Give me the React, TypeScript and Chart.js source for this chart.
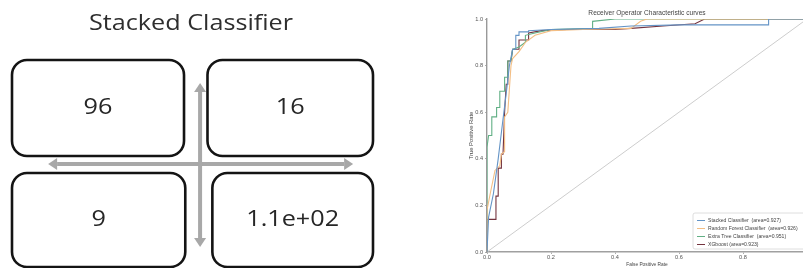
import React, { useEffect, useRef } from 'react';
import { Chart, registerables } from 'chart.js';

Chart.register(...registerables);

// ---------- Data: confusion matrix (left panel) ----------
const matrixTitle = 'Stacked Classifier';
const matrixValues = [96, 16, 9, 110]; // row-major: [TN, FP, FN, TP]

// ---------- Data: ROC curves (right panel) ----------
const rocTitle = 'Receiver Operator Characteristic curves';
const xAxisTitle = 'False Positive Rate';
const yAxisTitle = 'True Positive Rate';
const axisTicks = [0, 0.2, 0.4, 0.6, 0.8, 1.0];

const modelNames = ['Stacked Classifier ', 'Random Forest Classifier ', 'Extra Tree Classifier ', 'XGboost'];
const modelAuc = [0.927, 0.926, 0.951, 0.923];

const stackedFpr = [0, 0.005, 0.02, 0.035, 0.05, 0.06, 0.07, 0.08, 0.09, 0.09, 0.1, 0.1, 0.13, 0.13, 0.2, 0.35, 0.45, 0.6, 0.88, 0.88, 1.0];
const stackedTpr = [0, 0.15, 0.25, 0.4, 0.57, 0.68, 0.8, 0.87, 0.87, 0.93, 0.93, 0.945, 0.945, 0.95, 0.955, 0.96, 0.97, 0.975, 0.975, 1.0, 1.0];

const rfFpr = [0, 0, 0.01, 0.025, 0.04, 0.045, 0.055, 0.055, 0.065, 0.07, 0.075, 0.08, 0.1, 0.12, 0.15, 0.2, 0.3, 0.45, 0.48, 0.5, 1.0];
const rfTpr = [0, 0.18, 0.25, 0.35, 0.37, 0.42, 0.43, 0.58, 0.6, 0.7, 0.8, 0.83, 0.86, 0.9, 0.93, 0.95, 0.955, 0.96, 0.99, 1.0, 1.0];

const etFpr = [0, 0, 0.005, 0.015, 0.015, 0.03, 0.03, 0.04, 0.04, 0.055, 0.055, 0.065, 0.065, 0.075, 0.08, 0.1, 0.12, 0.12, 0.15, 0.2, 0.33, 0.33, 0.4, 1.0];
const etTpr = [0, 0.45, 0.5, 0.5, 0.58, 0.58, 0.62, 0.62, 0.69, 0.69, 0.75, 0.75, 0.82, 0.82, 0.87, 0.88, 0.9, 0.93, 0.94, 0.955, 0.96, 0.99, 1.0, 1.0];

const xgbFpr = [0, 0, 0.028, 0.028, 0.035, 0.035, 0.045, 0.045, 0.05, 0.055, 0.06, 0.065, 0.065, 0.075, 0.08, 0.1, 0.1, 0.13, 0.13, 0.17, 0.25, 0.4, 0.45, 0.55, 0.65, 0.68, 1.0];
const xgbTpr = [0, 0.14, 0.14, 0.24, 0.24, 0.36, 0.36, 0.42, 0.42, 0.6, 0.72, 0.72, 0.82, 0.82, 0.87, 0.87, 0.91, 0.91, 0.94, 0.95, 0.955, 0.955, 0.96, 0.97, 0.98, 1.0, 1.0];

const chanceFpr = [0, 1];
const chanceTpr = [0, 1];

// ---------- Styles ----------
const modelColors = ['#6494c6', '#f3be84', '#62b085', '#74343f'];
const SANS = '"Liberation Sans", Arial, sans-serif';
const MATRIX_FONT = '"Open Sans", "Noto Sans", sans-serif';

function fmtG(v: number, p = 2): string {
  if (v === 0) return '0';
  const e = Math.floor(Math.log10(Math.abs(v)));
  if (e < -4 || e >= p) {
    const parts = v.toExponential(p - 1).split('e');
    const m = parts[0].indexOf('.') >= 0 ? parts[0].replace(/\.?0+$/, '') : parts[0];
    const n = parseInt(parts[1], 10);
    return m + 'e' + (n < 0 ? '-' : '+') + String(Math.abs(n)).padStart(2, '0');
  }
  return String(parseFloat(v.toPrecision(p)));
}

function roundRect(ctx: CanvasRenderingContext2D, x: number, y: number, w: number, h: number, r: number) {
  ctx.beginPath();
  ctx.moveTo(x + r, y);
  ctx.lineTo(x + w - r, y);
  ctx.arcTo(x + w, y, x + w, y + r, r);
  ctx.lineTo(x + w, y + h - r);
  ctx.arcTo(x + w, y + h, x + w - r, y + h, r);
  ctx.lineTo(x + r, y + h);
  ctx.arcTo(x, y + h, x, y + h - r, r);
  ctx.lineTo(x, y + r);
  ctx.arcTo(x, y, x + r, y, r);
  ctx.closePath();
}

function stretchedText(ctx: CanvasRenderingContext2D, text: string, x: number, y: number, sx: number) {
  ctx.save();
  ctx.translate(x, y);
  ctx.scale(sx, 1);
  ctx.fillText(text, 0, 0);
  ctx.restore();
}

function arrow(ctx: CanvasRenderingContext2D, x1: number, y1: number, x2: number, y2: number) {
  const head = 9;
  const half = 6;
  const ang = Math.atan2(y2 - y1, x2 - x1);
  const ux = Math.cos(ang), uy = Math.sin(ang);
  ctx.beginPath();
  ctx.moveTo(x1 + ux * head, y1 + uy * head);
  ctx.lineTo(x2 - ux * head, y2 - uy * head);
  ctx.stroke();
  const tri = (tx: number, ty: number, dx: number, dy: number) => {
    ctx.beginPath();
    ctx.moveTo(tx, ty);
    ctx.lineTo(tx - dx * head - dy * half, ty - dy * head + dx * half);
    ctx.lineTo(tx - dx * head + dy * half, ty - dy * head - dx * half);
    ctx.closePath();
    ctx.fill();
  };
  tri(x2, y2, ux, uy);
  tri(x1, y1, -ux, -uy);
}

// Confusion-matrix drawing plugin (uses the chart's own x/y scales: columns 0..2, rows 0..2)
const matrixPlugin = {
  id: 'matrixPlugin',
  afterDatasetsDraw(chart: any) {
    const { ctx, scales, chartArea } = chart;
    const xs = scales.x, ys = scales.y;
    const colSpan = [[0, 0.953], [1.083, 2.0]];
    const colSpanBottom = [[0, 0.96], [1.11, 2.0]];
    const rowSpan = [[0, 0.928], [1.092, 2.0]];
    ctx.save();
    // title
    ctx.fillStyle = '#2e2e2e';
    ctx.font = `21px ${MATRIX_FONT}`;
    ctx.textAlign = 'center';
    ctx.textBaseline = 'middle';
    stretchedText(ctx, matrixTitle, (chartArea.left + chartArea.right) / 2 - 1.5, chartArea.top - 36, 1.2);
    // arrows
    ctx.strokeStyle = '#a8a8a8';
    ctx.fillStyle = '#a8a8a8';
    ctx.lineWidth = 4;
    arrow(ctx, xs.getPixelForValue(0.2), ys.getPixelForValue(1.005), xs.getPixelForValue(1.89), ys.getPixelForValue(1.005));
    arrow(ctx, xs.getPixelForValue(1.042), ys.getPixelForValue(0.222), xs.getPixelForValue(1.042), ys.getPixelForValue(1.807));
    // cells
    matrixValues.forEach((v, i) => {
      const r = Math.floor(i / 2), c = i % 2;
      const cs = r === 0 ? colSpan[c] : colSpanBottom[c];
      const x0 = xs.getPixelForValue(cs[0]);
      const x1 = xs.getPixelForValue(cs[1]);
      const y0 = ys.getPixelForValue(rowSpan[r][0]);
      const y1 = ys.getPixelForValue(rowSpan[r][1]);
      ctx.lineWidth = 2.6;
      ctx.strokeStyle = '#141414';
      roundRect(ctx, x0, y0, x1 - x0, y1 - y0, 15);
      ctx.stroke();
      ctx.fillStyle = '#262626';
      ctx.font = `21px ${MATRIX_FONT}`;
      ctx.textAlign = 'center';
      ctx.textBaseline = 'middle';
      stretchedText(ctx, fmtG(v), (x0 + x1) / 2, (y0 + y1) / 2, 1.2);
    });
    ctx.restore();
  },
};

// ROC legend plugin (lower right, inside the axes)
const rocLegendPlugin = {
  id: 'rocLegend',
  afterDatasetsDraw(chart: any) {
    const { ctx, chartArea } = chart;
    const L = chartArea.right - 114;
    const T = chartArea.bottom - 39;
    ctx.save();
    ctx.fillStyle = 'rgba(255,255,255,0.92)';
    ctx.strokeStyle = '#d6d6d6';
    ctx.lineWidth = 0.8;
    roundRect(ctx, L, T, 126, 36, 2);
    ctx.fill();
    ctx.stroke();
    const items = chart.data.datasets.filter((d: any) => d.label);
    items.forEach((d: any, i: number) => {
      const y = T + 7.5 + i * 8;
      ctx.strokeStyle = d.borderColor;
      ctx.lineWidth = 1;
      ctx.beginPath();
      ctx.moveTo(L + 4, y);
      ctx.lineTo(L + 12, y);
      ctx.stroke();
      ctx.fillStyle = '#444';
      ctx.font = `5.1px ${SANS}`;
      ctx.textAlign = 'left';
      ctx.textBaseline = 'middle';
      ctx.fillText(d.label, L + 15, y);
    });
    ctx.restore();
  },
};

function MatrixPanel() {
  const ref = useRef<HTMLCanvasElement | null>(null);
  useEffect(() => {
    if (!ref.current) return;
    const chart = new Chart(ref.current, {
      type: 'scatter',
      data: {
        datasets: [
          {
            label: 'cells',
            data: matrixValues.map((v, i) => ({ x: (i % 2) + 0.5, y: Math.floor(i / 2) + 0.5 })),
            pointRadius: 0,
            showLine: false,
          },
        ],
      },
      options: {
        responsive: false,
        animation: false,
        events: [],
        layout: { padding: { left: 12, right: 8, top: 60, bottom: 1 } },
        scales: {
          x: { type: 'linear', min: 0, max: 2, display: false },
          y: { type: 'linear', min: 0, max: 2, reverse: true, display: false },
        },
        plugins: { legend: { display: false }, tooltip: { enabled: false }, title: { display: false } },
      },
      plugins: [matrixPlugin],
    });
    return () => chart.destroy();
  }, []);
  return <canvas ref={ref} width={381} height={268} style={{ position: 'absolute', left: 0, top: 0 }} />;
}

function RocPanel() {
  const ref = useRef<HTMLCanvasElement | null>(null);
  useEffect(() => {
    if (!ref.current) return;
    const series = [
      [stackedFpr, stackedTpr],
      [rfFpr, rfTpr],
      [etFpr, etTpr],
      [xgbFpr, xgbTpr],
    ];
    const datasets: any[] = series.map(([fx, ty], i) => ({
      label: `${modelNames[i]} (area=${modelAuc[i].toFixed(3)})`,
      data: fx.map((x, j) => ({ x, y: ty[j] })),
      borderColor: modelColors[i],
      backgroundColor: modelColors[i],
      borderWidth: 1.1,
      pointRadius: 0,
      showLine: true,
      tension: 0,
      fill: false,
    }));
    datasets.push({
      label: '',
      data: chanceFpr.map((x, j) => ({ x, y: chanceTpr[j] })),
      borderColor: '#cdcdcd',
      borderWidth: 1,
      pointRadius: 0,
      showLine: true,
      fill: false,
    });
    const tickFont = { family: SANS, size: 5.6 };
    const chart = new Chart(ref.current, {
      type: 'scatter',
      data: { datasets },
      options: {
        responsive: false,
        animation: false,
        events: [],
        layout: { padding: { left: 0, right: 13, top: 0, bottom: 0 }, autoPadding: false },
        scales: {
          x: {
            type: 'linear',
            min: 0,
            max: 1,
            afterBuildTicks: (s: any) => {
              s.ticks = axisTicks.map((v) => ({ value: v }));
            },
            afterFit: (s: any) => {
              s.height = 16;
            },
            ticks: {
              font: tickFont,
              color: '#555',
              padding: 0,
              maxRotation: 0,
              autoSkip: false,
              callback: (v: any) => Number(v).toFixed(1),
            },
            grid: { drawOnChartArea: false, tickLength: 2, color: '#999', tickWidth: 0.8 },
            border: { color: '#a0a0a0', width: 1.6 },
            title: { display: true, text: xAxisTitle, font: { family: SANS, size: 4.8 }, color: '#444', padding: 0 },
          },
          y: {
            type: 'linear',
            min: 0,
            max: 1,
            afterBuildTicks: (s: any) => {
              s.ticks = axisTicks.map((v) => ({ value: v }));
            },
            afterFit: (s: any) => {
              s.width = 27;
            },
            ticks: {
              font: tickFont,
              color: '#555',
              padding: 2,
              autoSkip: false,
              callback: (v: any) => Number(v).toFixed(1),
            },
            grid: { drawOnChartArea: false, tickLength: 2, color: '#999', tickWidth: 0.8 },
            border: { color: '#999999', width: 1.4 },
            title: {
              display: true,
              text: yAxisTitle,
              font: { family: SANS, size: 5.8 },
              color: '#444',
              padding: { top: 8.2, bottom: 0 },
            },
          },
        },
        plugins: {
          legend: { display: false },
          tooltip: { enabled: false },
          title: {
            display: true,
            text: rocTitle,
            fullSize: false,
            font: { family: SANS, size: 6.6, weight: 'normal' },
            color: '#444',
            padding: { top: 9, bottom: 2.1 },
          },
        },
      },
      plugins: [rocLegendPlugin],
    });
    return () => chart.destroy();
  }, []);
  return <canvas ref={ref} width={360} height={268} style={{ position: 'absolute', left: 460, top: 0 }} />;
}

export default function App() {
  return (
    <div
      style={{
        position: 'fixed',
        left: 0,
        top: 0,
        width: 803,
        height: 268,
        overflow: 'hidden',
        background: '#ffffff',
      }}
    >
      <MatrixPanel />
      <RocPanel />
    </div>
  );
}
